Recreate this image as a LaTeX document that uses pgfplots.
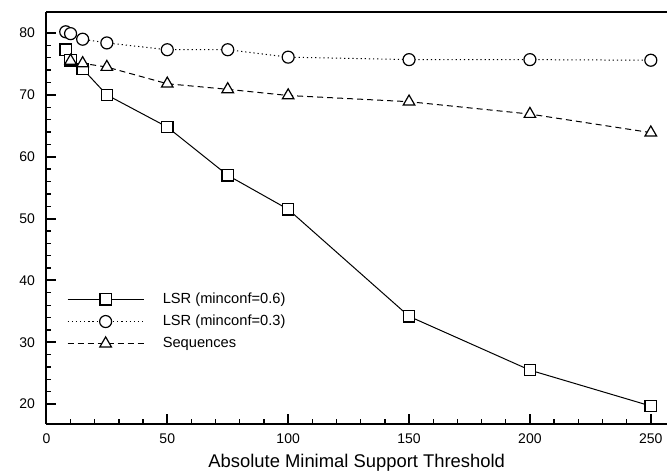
\documentclass[border=0pt]{standalone}
\usepackage{fontspec}
\setmainfont{Liberation Sans}
\usepackage{pgfplots}
\pgfplotsset{compat=1.18}

% 1px of the reference = 0.75pt
\begin{document}
\begin{tikzpicture}
\begin{axis}[
    scale only axis,
    width=465.5pt, height=309pt,
    xmin=0, xmax=256.7,
    ymin=16.8, ymax=83.4,
    axis x line*=box,
    axis y line*=left,
    xtick pos=bottom, ytick pos=left,
    axis line style={line width=1.5pt},
    xtick={0,50,100,150,200,250},
    ytick={20,30,40,50,60,70,80},
    minor x tick num=4,
    minor y tick num=4,
    tick align=inside,
    major tick length=7.5pt,
    minor tick length=3.4pt,
    major tick style={line width=1.5pt, black},
    minor tick style={line width=1pt, black},
    /pgf/number format/assume math mode=true,
    tick label style={font=\fontsize{10.5}{12}\selectfont},
    yticklabel style={xshift=-5pt},
    xticklabel style={yshift=-4pt},
    xlabel={Absolute Minimal Support Threshold},
    xlabel style={font=\fontsize{13.8}{15}\selectfont, yshift=-1pt},
    legend style={draw=none, fill=none, at={(rel axis cs:0.033,0.325)},
        anchor=north west, inner sep=0pt, row sep=3.2pt,
        font=\fontsize{11}{13}\selectfont,
        /tikz/every odd column/.append style={column sep=12pt}},
    legend cell align=left,
    legend image code/.code={%
        \draw[mark repeat=2, mark phase=2, #1]
        plot coordinates {(0pt,0pt) (28.5pt,0pt) (57pt,0pt)};},
    every axis plot/.append style={black, line width=0.75pt,
        mark options={solid, fill=white, line width=0.9pt}},
]
% LSR (minconf=0.6)
\addplot[mark=square*, mark size=4.3pt] coordinates {
(8,77.3) (10,75.6) (15,74.2) (25,70.0) (50,64.8) (75,57.0)
(100,51.5) (150,34.2) (200,25.5) (250,19.7)};
% LSR (minconf=0.3)
\addplot[mark=*, mark size=4.5pt, dash pattern=on 0.9pt off 2.2pt] coordinates {
(8,80.2) (10,79.9) (15,79.0) (25,78.4) (50,77.3) (75,77.3)
(100,76.1) (150,75.7) (200,75.7) (250,75.6)};
% Sequences
\addplot[mark=triangle*, mark size=5pt, dash pattern=on 4.5pt off 3pt] coordinates {
(10,75.5) (15,75.1) (25,74.5) (50,71.8) (75,70.9)
(100,69.9) (150,68.9) (200,66.9) (250,63.9)};
\legend{LSR (minconf=0.6), LSR (minconf=0.3), Sequences}
\end{axis}
\pgfresetboundingbox
\path (current axis.south west) ++(-34.8pt,-38.25pt) coordinate (bl);
\path (current axis.north east) ++(0pt,9pt) coordinate (tr);
\path[use as bounding box] (bl) rectangle (tr);
\end{tikzpicture}
\end{document}
